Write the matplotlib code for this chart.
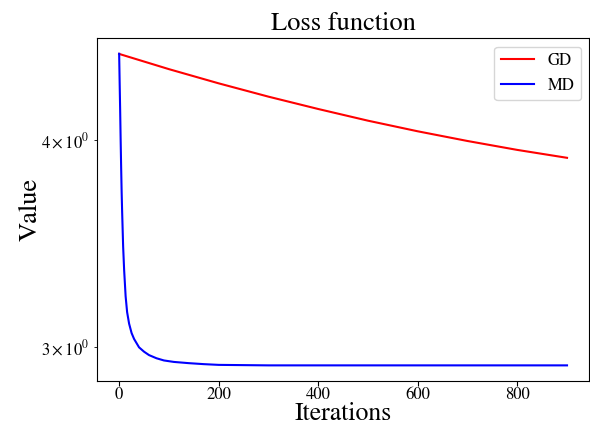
import matplotlib
matplotlib.use("Agg")
import matplotlib.pyplot as plt

plt.rcParams['font.family'] = ['STIXGeneral', 'DejaVu Serif']
plt.rcParams['mathtext.fontset'] = 'stix'

# values
gd_iters = [0, 100, 200, 300, 400, 500, 600, 700, 800, 900]
gd_loss = [4.505, 4.411, 4.325, 4.246, 4.174, 4.107, 4.047, 3.993, 3.944, 3.901]

md_iters = [0, 1, 2, 3, 4, 5, 6, 8, 10, 13, 16, 20, 25, 30, 40, 50, 60, 75,
            90, 110, 140, 170, 200, 250, 300, 400, 500, 600, 700, 800, 900]
md_loss = [4.506, 4.33, 4.17, 4.00, 3.85, 3.72, 3.62, 3.45, 3.34, 3.22, 3.15,
           3.10, 3.06, 3.035, 3.000, 2.982, 2.968, 2.955, 2.946, 2.940, 2.935,
           2.931, 2.928, 2.927, 2.926, 2.926, 2.926, 2.926, 2.926, 2.926, 2.926]

fig = plt.figure(figsize=(5.9, 4.29), dpi=100)
ax = fig.add_axes([0.164, 0.112, 0.835, 0.799])

ax.plot(gd_iters, gd_loss, color='red', label='GD')
ax.plot(md_iters, md_loss, color='blue', label='MD')
ax.set_yscale('log')

ax.set_title('Loss function', fontsize=19)
ax.set_xlabel('Iterations', fontsize=18.5)
ax.set_ylabel('Value', fontsize=19)
ax.xaxis.set_label_coords(0.5, -0.062)
ax.yaxis.set_label_coords(-0.11, 0.5)
ax.tick_params(which='both', labelsize=12)
ax.tick_params(axis='x', pad=1)
ax.legend(fontsize=12, loc='upper right')

fig.savefig('out.png', dpi=100)
